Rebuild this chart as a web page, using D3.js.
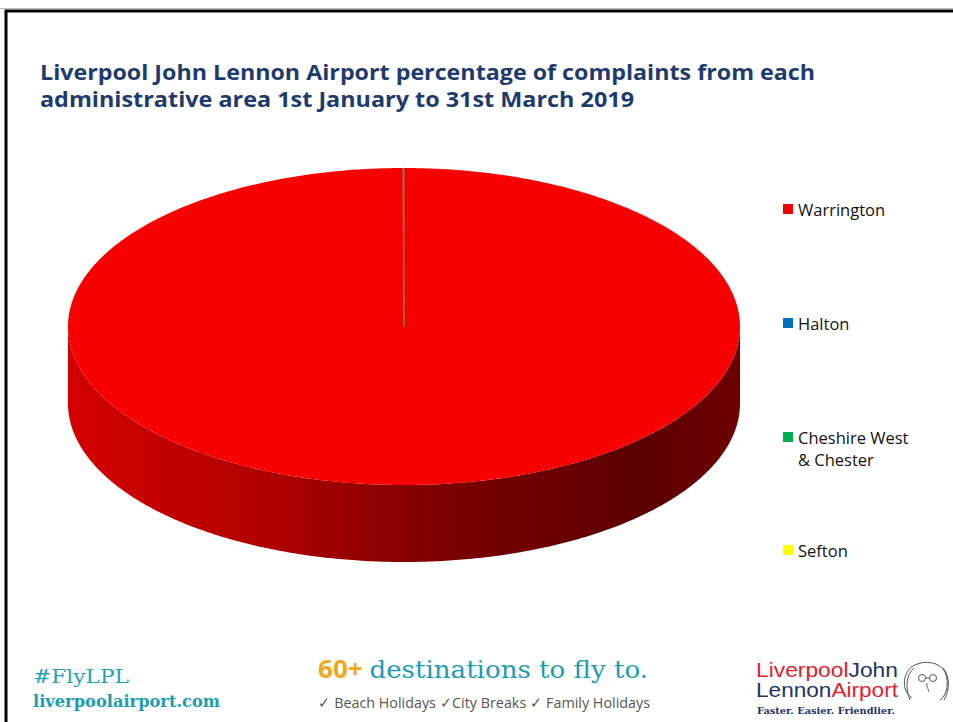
<!DOCTYPE html>
<html>
<head>
<meta charset="utf-8">
<script src="https://cdn.jsdelivr.net/npm/d3@7"></script>
<style>
  body { margin: 0; background: #fff; }
  svg { display: block; }
</style>
</head>
<body>
<div id="chart"></div>
<script>
// data
var areas = ["Warrington", "Halton", "Cheshire West & Chester", "Sefton"];
var shares = [99.95, 0, 0.05, 0];
var colours = ["#f70000", "#0070c0", "#00b050", "#ffff00"];
var legendLines = [["Warrington"], ["Halton"], ["Cheshire West", "& Chester"], ["Sefton"]];
var titleLines = ["Liverpool John Lennon Airport percentage of complaints from each",
                  "administrative area 1st January to 31st March 2019"];

var width = 953, height = 722;

var svg = d3.select("#chart").append("svg")
  .attr("width", width)
  .attr("height", height);

// slide frame
svg.append("line").attr("x1", 0).attr("x2", width).attr("y1", 8.5).attr("y2", 8.5)
  .attr("stroke", "#bbb").attr("stroke-width", 1);
svg.append("path")
  .attr("d", "M6," + height + "V11H" + width)
  .attr("fill", "none").attr("stroke", "#000").attr("stroke-width", 3);

// title
svg.append("g").selectAll("text")
  .data(titleLines)
  .enter().append("text")
  .attr("x", 40)
  .attr("y", function (d, i) { return 80 + i * 27; })
  .attr("textLength", function (d, i) { return i == 0 ? 775 : 594; })
  .attr("lengthAdjust", "spacingAndGlyphs")
  .style("font-family", "'Liberation Sans Narrow', 'Open Sans', sans-serif")
  .style("font-weight", "bold")
  .style("font-size", "21px")
  .style("fill", "#1f3b6e")
  .text(function (d) { return d; });

// 3d pie geometry
var cx = 404, cy = 326.5, rx = 336, ry = 158.5, depth = 77;

var pie = d3.pie().sort(null).value(function (d) { return d; });
var arcs = pie(shares).map(function (a, i) {
  return { start: a.startAngle, end: a.endAngle, colour: colours[i], name: areas[i] };
});

function pt(a, dy) {
  return [cx + rx * Math.sin(a), cy - ry * Math.cos(a) + (dy || 0)];
}

function arcPoints(a0, a1, dy) {
  var n = Math.max(2, Math.ceil((a1 - a0) / 0.01));
  var pts = [];
  for (var k = 0; k <= n; k++) pts.push(pt(a0 + (a1 - a0) * k / n, dy));
  return pts;
}

var defs = svg.append("defs");
var grad = defs.append("linearGradient")
  .attr("id", "sideShade")
  .attr("gradientUnits", "userSpaceOnUse")
  .attr("x1", cx - rx).attr("x2", cx + rx).attr("y1", 0).attr("y2", 0);
grad.append("stop").attr("offset", "0").attr("stop-color", "#d40000");
grad.append("stop").attr("offset", "0.3").attr("stop-color", "#b00000");
grad.append("stop").attr("offset", "0.55").attr("stop-color", "#7e0000");
grad.append("stop").attr("offset", "0.85").attr("stop-color", "#5c0000");
grad.append("stop").attr("offset", "1").attr("stop-color", "#6e0000");

var line = d3.line();

// side walls: only the front half (angles between PI/2 and 3PI/2) is seen
var side = svg.append("g");
arcs.forEach(function (s) {
  var a0 = Math.max(s.start, Math.PI / 2), a1 = Math.min(s.end, Math.PI * 3 / 2);
  if (a1 <= a0) return;
  var top = arcPoints(a0, a1, 0);
  var bottom = arcPoints(a0, a1, depth).reverse();
  side.append("path")
    .attr("d", line(top.concat(bottom)) + "Z")
    .attr("fill", "url(#sideShade)");
});

// top face
var topFace = svg.append("g");
arcs.forEach(function (s) {
  if (s.end - s.start <= 0) return;
  var pts = [[cx, cy]].concat(arcPoints(s.start, s.end, 0));
  topFace.append("path")
    .attr("d", line(pts) + "Z")
    .attr("fill", s.colour)
    .attr("stroke", s.end - s.start < 0.01 ? "#6a8f6a" : "none")
    .attr("stroke-width", 0.8);
});

// legend
var legend = svg.append("g").selectAll("g")
  .data(legendLines)
  .enter().append("g")
  .attr("transform", function (d, i) { return "translate(783," + [210, 324, 438, 551][i] + ")"; });

legend.append("rect")
  .attr("x", 0).attr("y", -6)
  .attr("width", 10).attr("height", 10)
  .attr("fill", function (d, i) { return colours[i]; });

legend.append("text")
  .attr("x", 15).attr("y", 5.5)
  .style("font-family", "'Open Sans', sans-serif")
  .style("font-size", "16.5px")
  .style("fill", "#111")
  .selectAll("tspan")
  .data(function (d) { return d; })
  .enter().append("tspan")
  .attr("x", 15)
  .attr("dy", function (d, i) { return i == 0 ? 0 : 22; })
  .text(function (d) { return d; });

// footer
var foot = svg.append("g");
foot.append("text").attr("x", 33).attr("y", 683)
  .attr("textLength", 96).attr("lengthAdjust", "spacingAndGlyphs")
  .style("font-family", "'DejaVu Serif', serif").style("font-size", "19px")
  .style("fill", "#22a3b3").text("#FlyLPL");
foot.append("text").attr("x", 33).attr("y", 707)
  .attr("textLength", 187).attr("lengthAdjust", "spacingAndGlyphs")
  .style("font-family", "'DejaVu Serif', serif").style("font-size", "17px")
  .style("font-weight", "bold").style("fill", "#1a9db0").text("liverpoolairport.com");

var dest = foot.append("text").attr("x", 318).attr("y", 678)
  .attr("textLength", 330).attr("lengthAdjust", "spacingAndGlyphs")
  .style("font-family", "'DejaVu Serif', serif").style("font-size", "25px");
dest.append("tspan").style("fill", "#f0a81c").style("font-weight", "bold").style("font-family", "'Open Sans', sans-serif").text("60+ ");
dest.append("tspan").style("fill", "#1a9db0").text("destinations to fly to.");

foot.append("text").attr("x", 318).attr("y", 708)
  .attr("textLength", 332).attr("lengthAdjust", "spacingAndGlyphs")
  .style("font-family", "'Liberation Sans Narrow', 'Open Sans', sans-serif").style("font-size", "15px")
  .style("fill", "#555")
  .text("\u2713 Beach Holidays  \u2713City Breaks  \u2713 Family Holidays");

var logo = foot.append("g").style("font-family", "'Liberation Sans', Arial, sans-serif").style("font-size", "20px");
var l1 = logo.append("text").attr("x", 756).attr("y", 677)
  .attr("textLength", 142).attr("lengthAdjust", "spacingAndGlyphs");
l1.append("tspan").style("fill", "#e3202c").text("Liverpool");
l1.append("tspan").style("fill", "#1d3266").text("John");
var l2 = logo.append("text").attr("x", 756).attr("y", 697)
  .attr("textLength", 142).attr("lengthAdjust", "spacingAndGlyphs");
l2.append("tspan").style("fill", "#1d3266").text("Lennon");
l2.append("tspan").style("fill", "#e3202c").text("Airport");
logo.append("text").attr("x", 757).attr("y", 714)
  .attr("textLength", 138).attr("lengthAdjust", "spacingAndGlyphs")
  .style("font-family", "'DejaVu Serif', serif").style("font-size", "9px").style("font-weight", "bold")
  .style("fill", "#1d3266").text("Faster. Easier. Friendlier.");

// little line drawing of the face
var face = logo.append("g").attr("fill", "none").attr("stroke", "#555").attr("stroke-width", 1);
face.append("path").attr("d", "M912,698 C900,690 903,670 915,665 C925,660 940,662 945,672 C950,684 946,696 940,700");
face.append("path").attr("d", "M910,700 C905,688 906,675 914,668");
face.append("path").attr("d", "M944,700 C950,690 950,676 943,668");
face.append("circle").attr("cx", 922).attr("cy", 678).attr("r", 3.5);
face.append("circle").attr("cx", 933).attr("cy", 678).attr("r", 3.5);
face.append("path").attr("d", "M925.5,678 H929.5 M927,683 C926,688 930,690 928,692");
</script>
</body>
</html>
